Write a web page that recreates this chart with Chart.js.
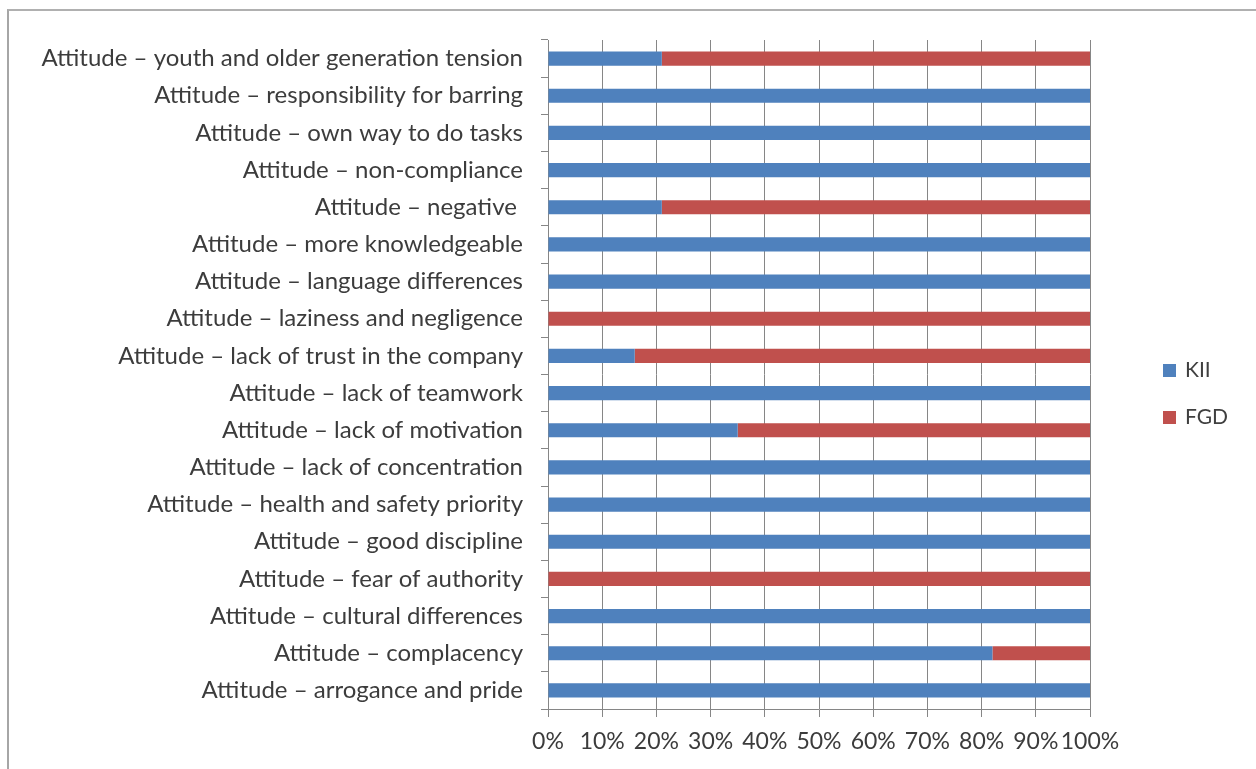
<!DOCTYPE html>
<html>
<head>
<meta charset="utf-8">
<script src="https://cdn.jsdelivr.net/npm/chart.js@4"></script>
<style>
  html, body { margin: 0; padding: 0; background: #fff; }
  #wrap { position: relative; width: 1256px; height: 769px; overflow: hidden; }
  #frame {
    position: absolute; left: 7px; top: 9px; width: 1247px; height: 780px;
    border-left: 2px solid #a6a6a6; border-top: 2px solid #b0b0b0; border-right: 1px solid #e4e4e4;
    pointer-events: none;
  }
  .leg { position: absolute; font-family: Lato, "Liberation Sans", sans-serif; font-size: 21px; color: #404040; }
  .leg span { display: inline-block; width: 13px; height: 13px; margin-right: 9px; vertical-align: 0px; }
</style>
</head>
<body>
<div id="wrap">
  <canvas id="chart" width="1256" height="769"></canvas>
  <div id="frame"></div>
  <div class="leg" id="leg-kii" style="left:1163px; top:356px;"><span style="background:#4F81BD"></span>KII</div>
  <div class="leg" id="leg-fgd" style="left:1163px; top:403px;"><span style="background:#C0504D"></span>FGD</div>
</div>
<script>
// categories, top to bottom as in the picture
const categories = [
    "Attitude \u2013 youth and older generation tension",
    "Attitude \u2013 responsibility for barring",
    "Attitude \u2013 own way to do tasks",
    "Attitude \u2013 non-compliance",
    "Attitude \u2013 negative ",
    "Attitude \u2013 more knowledgeable",
    "Attitude \u2013 language differences",
    "Attitude \u2013 laziness and negligence",
    "Attitude \u2013 lack of trust in the company",
    "Attitude \u2013 lack of teamwork",
    "Attitude \u2013 lack of motivation",
    "Attitude \u2013 lack of concentration",
    "Attitude \u2013 health and safety priority",
    "Attitude \u2013 good discipline",
    "Attitude \u2013 fear of authority",
    "Attitude \u2013 cultural differences",
    "Attitude \u2013 complacency",
    "Attitude \u2013 arrogance and pride"
];

// share of mentions, percent
const kiiValues = [21, 100, 100, 100, 21, 100, 100, 0, 16, 100, 35, 100, 100, 100, 0, 100, 82, 100];
const fgdValues = [79, 0, 0, 0, 79, 0, 0, 100, 84, 0, 65, 0, 0, 0, 100, 0, 18, 0];

const xTicks = [0, 10, 20, 30, 40, 50, 60, 70, 80, 90, 100];

const textColor = "#3c3c3c";
const lineColor = "#868686";
const fontFamily = "Lato, 'Liberation Sans', sans-serif";

const ctx = document.getElementById('chart').getContext('2d');

new Chart(ctx, {
    type: "bar",
    data: {
        labels: categories,
        datasets: [
            {
                label: "KII",
                data: kiiValues,
                backgroundColor: "#4F81BD",
                barPercentage: 0.38,
                categoryPercentage: 1
            },
            {
                label: "FGD",
                data: fgdValues,
                backgroundColor: "#C0504D",
                barPercentage: 0.38,
                categoryPercentage: 1
            }
        ]
    },
    options: {
        indexAxis: 'y',
        responsive: false,
        animation: false,
        layout: {
            padding: { left: 0, right: 166, top: 40, bottom: 0 }
        },
        plugins: {
            legend: { display: false },
            tooltip: { enabled: false }
        },
        scales: {
            x: {
                stacked: true,
                min: 0,
                max: 100,
                afterBuildTicks: (scale) => {
                    scale.ticks = xTicks.map(v => ({ value: v }));
                },
                afterFit: (scale) => { scale.height = 60; },
                grid: {
                    color: lineColor,
                    lineWidth: 1,
                    tickLength: 8,
                    drawOnChartArea: true
                },
                border: { color: lineColor, width: 1 },
                ticks: {
                    color: textColor,
                    font: { family: fontFamily, size: 23 },
                    padding: 11,
                    maxRotation: 0,
                    autoSkip: false,
                    callback: (v) => v + "%"
                }
            },
            y: {
                stacked: true,
                afterFit: (scale) => { scale.width = 548; },
                grid: {
                    color: lineColor,
                    drawOnChartArea: false,
                    tickLength: 7,
                    offset: true
                },
                border: { color: lineColor, width: 1 },
                ticks: {
                    color: textColor,
                    font: { family: fontFamily, size: 24 },
                    padding: 18,
                    autoSkip: false
                }
            }
        }
    }
});
</script>
</body>
</html>
